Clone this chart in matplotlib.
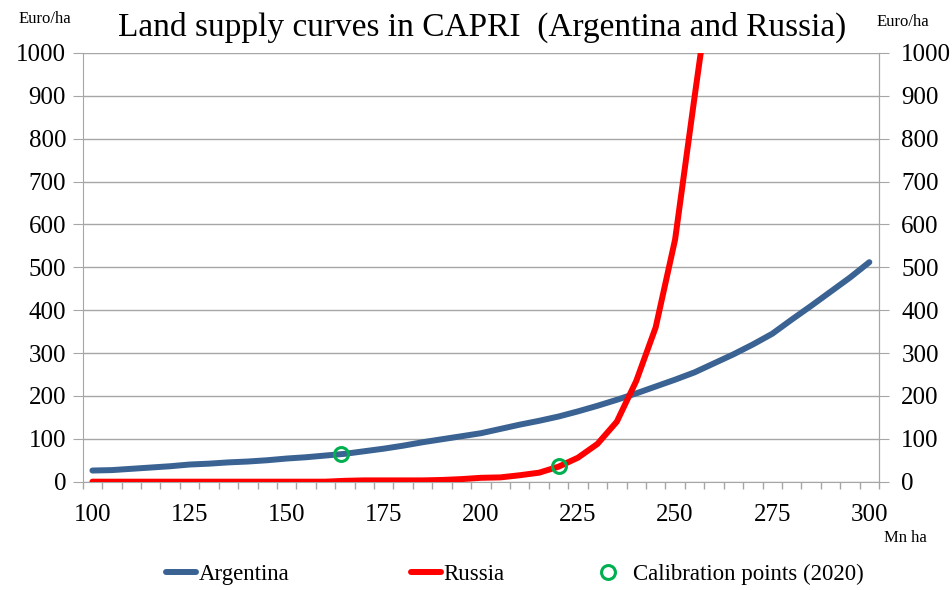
import matplotlib.pyplot as plt
import matplotlib.ticker as mticker
import numpy as np

plt.rcParams['font.family'] = ['Liberation Serif', 'DejaVu Serif']

# land (Mn ha) on a 5 Mn ha category grid
area_arg = list(range(100, 301, 5))
price_arg = [26, 27, 30, 33, 36, 40, 42, 45, 47, 50,
             54, 57, 61, 65, 71, 77, 84, 92, 99, 106,
             113, 123, 133, 142, 152, 164, 177, 191, 206, 222,
             238, 255, 276, 297, 320, 345, 378, 410, 443, 476, 512]

area_rus = list(range(100, 261, 5))
price_rus = [0, 0, 0, 0, 0, 0, 0, 0, 0, 0,
             0, 0, 0, 2, 3, 3, 3, 3, 4, 6,
             9, 10, 15, 21, 35, 56, 88, 140, 235, 360,
             565, 897, 1220]

calib_x = [164, 220]
calib_y = [65, 36]

blue = '#3A6393'
red = '#FF0000'
green = '#00B050'
grid_col = '#A6A6A6'

fig = plt.figure(figsize=(9.53, 5.9), dpi=100)
ax = fig.add_axes([0.0868, 0.1836, 0.9224 - 0.0868, 0.9102 - 0.1836])

l1, = ax.plot(area_arg, price_arg, color=blue, lw=4.3, solid_capstyle='round', label='Argentina', zorder=3)
l2, = ax.plot(area_rus, price_rus, color=red, lw=4.3, solid_capstyle='round', label='Russia', zorder=3)
l3, = ax.plot(calib_x, calib_y, 'o', ms=10, mfc='none', mec=green, mew=2.2, label='Calibration points (2020)', zorder=4)

ax.set_xlim(97.5, 302.5)
ax.set_ylim(0, 1000)

ax.set_xticks(np.arange(100, 301, 25))
ax.xaxis.set_minor_locator(mticker.FixedLocator(np.arange(97.5, 303, 5)))
ax.tick_params(axis='x', which='major', length=0, pad=16, labelsize=18)
ax.tick_params(axis='x', which='minor', length=5, color=grid_col, width=1)

ax.set_yticks(np.arange(0, 1001, 100))
ax.tick_params(axis='y', which='major', length=7, color=grid_col, labelsize=18, pad=5)
ax.yaxis.grid(True, color=grid_col, lw=1)
ax.set_axisbelow(True)

ax.spines['top'].set_visible(False)
for s in ['left', 'right', 'bottom']:
    ax.spines[s].set_color(grid_col)

ax2 = ax.twinx()
ax2.set_ylim(0, 1000)
ax2.set_yticks(np.arange(0, 1001, 100))
ax2.tick_params(axis='y', length=7, color=grid_col, labelsize=18, pad=9)
for s in ['top', 'left', 'bottom']:
    ax2.spines[s].set_visible(False)
ax2.spines['right'].set_color(grid_col)

fig.text(0.506, 0.953, 'Land supply curves in CAPRI  (Argentina and Russia)', ha='center', va='center', fontsize=24)
fig.text(0.019, 0.968, 'Euro/ha', ha='left', va='center', fontsize=12)
fig.text(0.920, 0.962, 'Euro/ha', ha='left', va='center', fontsize=12)
fig.text(0.928, 0.088, 'Mn ha', ha='left', va='center', fontsize=12)

leg1 = fig.legend(handles=[l1, l2], loc='center', bbox_to_anchor=(0.352, 0.026), ncol=2, frameon=False,
                  fontsize=16.5, handlelength=1.3, handletextpad=0.12, columnspacing=5.3)
fig.legend(handles=[l3], loc='center', bbox_to_anchor=(0.764, 0.026), frameon=False,
           fontsize=16.5, handlelength=1.3, handletextpad=0.45)

fig.savefig('out.png', dpi=100)
